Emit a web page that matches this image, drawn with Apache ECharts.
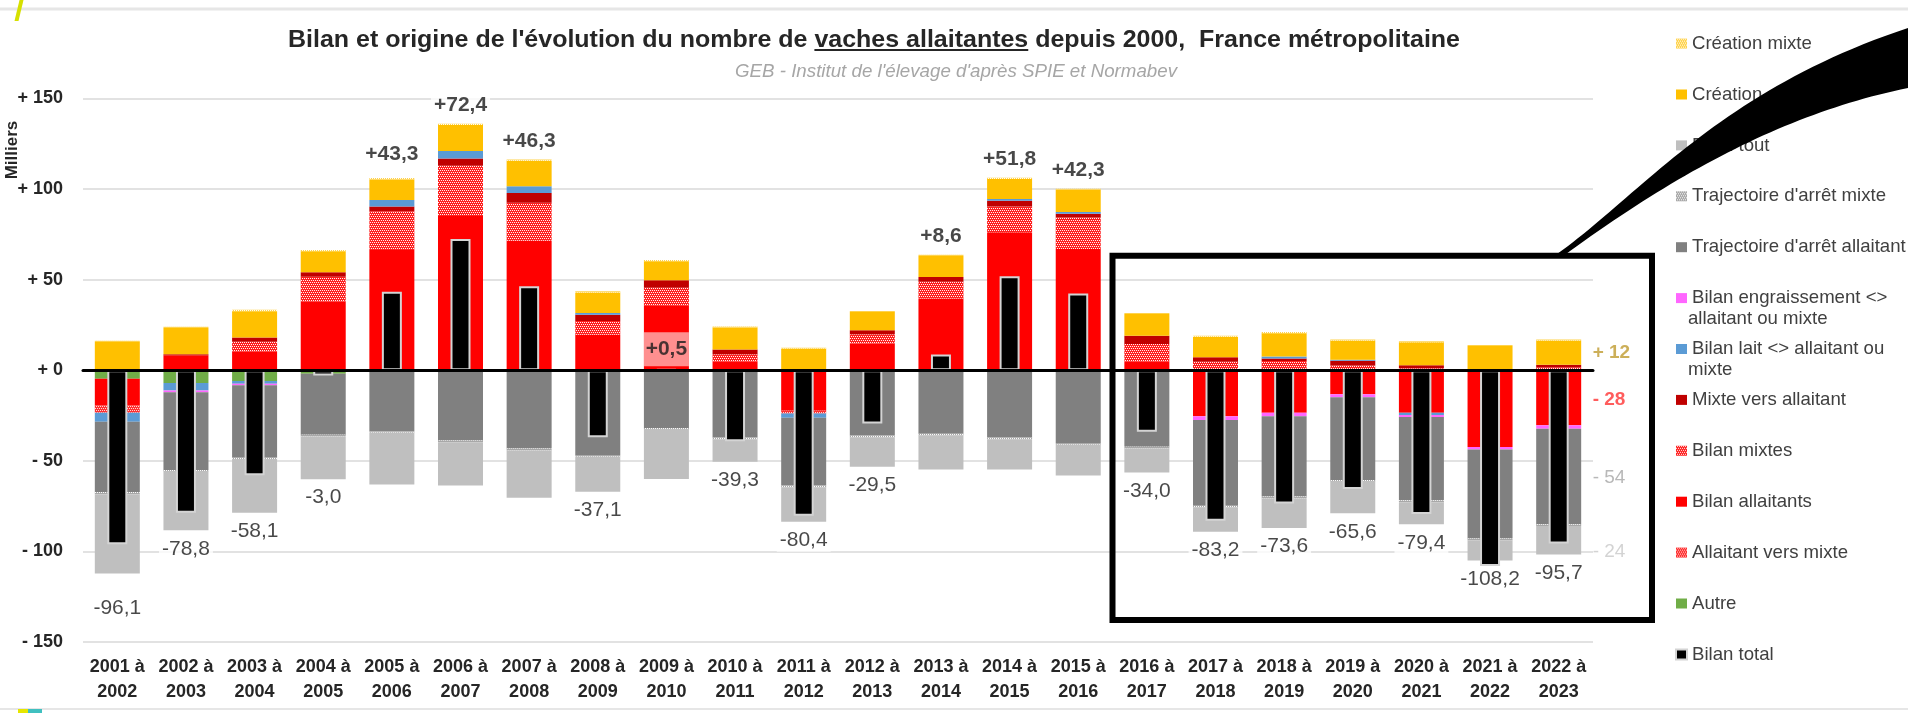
<!DOCTYPE html>
<html><head><meta charset="utf-8">
<script src="https://cdn.jsdelivr.net/npm/echarts@6/dist/echarts.min.js"></script>
<style>html,body{margin:0;padding:0;background:#fff;}#chart{width:1908px;height:713px;}</style>
</head><body><div id="chart"></div>
<script>
// ---------------- DATA (milliers de vaches) ----------------
const categories = ['2001 à 2002','2002 à 2003','2003 à 2004','2004 à 2005','2005 à 2006','2006 à 2007','2007 à 2008','2008 à 2009','2009 à 2010','2010 à 2011','2011 à 2012','2012 à 2013','2013 à 2014','2014 à 2015','2015 à 2016','2016 à 2017','2017 à 2018','2018 à 2019','2019 à 2020','2020 à 2021','2021 à 2022','2022 à 2023'];
const autre              = [-4.7, -7.1, -6.0, -2.0, 0, 0, 0, 0, 0, 0, 0, 0, 0, 0, 0, 0, 0, 0, 0, 0, 0, 0];
const bilanAllaitants    = [-14.7, 8.2, 10.2, 37.8, 66.3, 85.1, 71.4, 19.6, 35.9, 4.7, -22.4, 14.7, 39.6, 76.1, 66.9, 4.7, -25.5, -23.5, -13.3, -23.5, -42.4, -30.4];
const bilanMixtes        = [0, 0, 5.5, 13.8, 21.5, 27.8, 21.0, 7.5, 9.6, 4.1, 0, 5.1, 9.2, 14.3, 17.4, 9.8, 4.7, 5.0, 2.5, 1.0, 0, 1.5];
const allaitantVersMixte = [-4.1, 0, 0, 0, 0, 0, 0, 0, 0, 0, -1.5, 0, 0, 0, 0, 0, 0, 0, 0, 0, 0, 0];
const mixteVersAllaitant = [0, 0.6, 2.3, 2.5, 2.6, 4.0, 5.4, 3.5, 4.1, 2.6, 0.5, 2.2, 2.6, 3.1, 2.0, 4.5, 2.4, 1.5, 2.7, 1.7, 0.5, 1.5];
const bilanLait          = [-5.0, -4.1, -1.5, 0, 3.5, 4.1, 3.8, 1.0, 0, 0, -2.4, 0, 0, 1.0, 1.0, 0, 0, 1.0, 0.5, -1.2, 0, 0];
const bilanEngraissement = [0, -1.0, -0.8, 0, -0.5, 0, 0, -0.5, 0, 0, 0, -0.5, 0, -0.5, -0.5, 0, -2.0, -2.0, -1.6, -1.2, -1.4, -2.0];
const trajArretAllaitant = [-38.8, -42.9, -39.7, -33.7, -33.2, -38.8, -43.3, -46.3, -32.0, -37.2, -37.4, -35.6, -35.1, -36.7, -39.7, -42.3, -47.4, -44.3, -45.7, -46.0, -49.1, -52.7];
const trajArretMixte     = [-1.2, -1.0, -1.1, -1.0, -0.9, -1.0, -1.1, -1.0, -0.9, -1.0, -1.0, -0.9, -1.0, -1.0, -1.0, -1.0, -1.0, -1.1, -1.0, -1.0, -1.0, -1.0];
const bilanTout          = [-43.8, -32.3, -29.6, -23.5, -28.6, -23.9, -26.1, -19.4, -27.2, -12.4, -19.0, -16.4, -18.8, -16.7, -17.0, -13.2, -13.3, -16.3, -17.4, -12.2, -11.2, -15.7];
const creationAllaitant  = [15.5, 14.5, 14.5, 11.5, 11.4, 14.3, 14.0, 11.3, 10.5, 12.1, 11.4, 10.1, 11.6, 11.1, 12.3, 12.0, 11.3, 12.9, 10.7, 12.7, 12.9, 13.4];
const creationMixte      = [0.8, 0.6, 0.8, 0.7, 0.8, 0.8, 0.7, 0.6, 0.7, 0.6, 0.5, 0.6, 0.7, 0.7, 0.6, 0.6, 0.6, 0.6, 0.5, 0.5, 0.5, 0.5];
const bilanTotal         = [-96.1, -78.8, -58.1, -3.0, 43.3, 72.4, 46.3, -37.1, 0.5, -39.3, -80.4, -29.5, 8.6, 51.8, 42.3, -34.0, -83.2, -73.6, -65.6, -79.4, -108.2, -95.7];
const yTicks = [-150, -100, -50, 0, 50, 100, 150];
// annotations on the right of the last bar
const annTexts = ['+ 12', '- 28', '- 54', '- 24'];
const annY     = [9.8, -16.1, -59.6, -100.4];

// ---------------- STYLE ----------------
const FONT = '"Liberation Sans", Arial, sans-serif';
const dots = (c) => ({symbol: 'rect', symbolSize: 1, color: c, dashArrayX: [[1, 1], [0, 1, 1, 0]], dashArrayY: [1, 1]});
const comp = [
  {name: 'Autre', data: autre, color: '#70AD47'},
  {name: 'Bilan allaitants', data: bilanAllaitants, color: '#FF0000'},
  {name: 'Bilan mixtes', data: bilanMixtes, color: '#FF2020', decal: dots('rgba(255,255,255,0.95)')},
  {name: 'Allaitant vers mixte', data: allaitantVersMixte, color: '#FF3030', decal: dots('rgba(255,255,255,0.8)')},
  {name: 'Mixte vers allaitant', data: mixteVersAllaitant, color: '#C00000'},
  {name: 'Bilan lait <> allaitant ou mixte', data: bilanLait, color: '#5B9BD5'},
  {name: 'Bilan engraissement <> allaitant ou mixte', data: bilanEngraissement, color: '#FF66FF'},
  {name: "Trajectoire d'arrêt allaitant", data: trajArretAllaitant, color: '#808080'},
  {name: "Trajectoire d'arrêt mixte", data: trajArretMixte, color: '#A8A8A8', decal: dots('rgba(255,255,255,0.95)')},
  {name: 'Bilan tout', data: bilanTout, color: '#BFBFBF'},
  {name: 'Création allaitant', data: creationAllaitant, color: '#FFC000'},
  {name: 'Création mixte', data: creationMixte, color: '#FFD34D', decal: dots('rgba(255,255,255,0.95)')}
];
const legendOrder = ['Création mixte','Création allaitant','Bilan tout',"Trajectoire d'arrêt mixte","Trajectoire d'arrêt allaitant",'Bilan engraissement <> allaitant ou mixte','Bilan lait <> allaitant ou mixte','Mixte vers allaitant','Bilan mixtes','Bilan allaitants','Allaitant vers mixte','Autre','Bilan total'];
const legendFirstLine = {'Bilan engraissement <> allaitant ou mixte': 'Bilan engraissement <>', 'Bilan lait <> allaitant ou mixte': 'Bilan lait <> allaitant ou'};
const legendSecondLine = {'Bilan engraissement <> allaitant ou mixte': 'allaitant ou mixte', 'Bilan lait <> allaitant ou mixte': 'mixte'};
const annColors = ['#BF9B30', '#FF3333', '#A6A6A6', '#C8C8C8'];
const annBold = [true, true, false, false];

const fmt = v => (v > 0 ? '+' : '') + v.toFixed(1).replace('.', ',');

// stack extremities (for label anchors)
const posTop = categories.map((_, i) => comp.reduce((s, c) => s + Math.max(0, c.data[i]), 0));
const negBottom = categories.map((_, i) => comp.reduce((s, c) => s + Math.min(0, c.data[i]), 0));
const labelNudge = {0: 16, 4: 5};

const series = comp.map(c => ({
  name: c.name, type: 'bar', stack: 'bilan', stackStrategy: 'samesign',
  xAxisIndex: 0, barWidth: 45, data: c.data, silent: true,
  itemStyle: Object.assign({color: c.color}, c.decal ? {decal: c.decal} : {}),
  emphasis: {disabled: true}
}));
series.push({
  name: 'Bilan total', type: 'bar', xAxisIndex: 1, barWidth: 20, data: bilanTotal, silent: true,
  itemStyle: {color: '#000', borderColor: '#D4D4D4', borderWidth: 2}, emphasis: {disabled: true}
});
series.push({
  name: 'labels', type: 'scatter', xAxisIndex: 0, symbolSize: 0, silent: true, z: 6,
  data: bilanTotal.map((t, i) => {
    if (Math.abs(t) < 1) {
      return {value: [i, 0], label: {position: 'top', distance: 4, backgroundColor: 'rgba(255,255,255,0.7)', width: 45, height: 34, lineHeight: 34, align: 'center', padding: 0, fontWeight: 'bold'}};
    }
    const up = t > 0;
    return {value: [i, up ? posTop[i] : negBottom[i]], label: {position: up ? 'top' : 'bottom', distance: 7 + (labelNudge[i] || 0), fontWeight: up ? 'bold' : 'normal'}};
  }),
  label: {show: true, formatter: p => fmt(bilanTotal[p.dataIndex]), fontSize: 21, color: '#1A1A1A', fontFamily: FONT, backgroundColor: '#fff', padding: [1, 3]}
});
series.push({
  name: 'annotations', type: 'scatter', xAxisIndex: 0, symbolSize: 0, silent: true, z: 6,
  data: annY.map((v, k) => ({value: [categories.length - 1, v], label: {formatter: annTexts[k], color: annColors[k], fontWeight: annBold[k] ? 'bold' : 'normal'}})),
  label: {show: true, position: 'right', distance: 34, fontSize: 19, fontFamily: FONT}
});

// ---------------- TITLE MEASURE ----------------
const ctx = document.createElement('canvas').getContext('2d');
const tw = (s, f) => { ctx.font = f; return ctx.measureText(s).width; };
const t1 = "Bilan et origine de l'évolution du nombre de ", t2 = 'vaches allaitantes', t3 = ' depuis 2000,  France métropolitaine';
const titleFont = 'bold 24px "Liberation Sans"';
const w1 = tw(t1, titleFont), w2 = tw(t2, titleFont), w3 = tw(t3, titleFont);
const titleW = 1172, titleX = 288, tScale = titleW / (w1 + w2 + w3);
const sub = "GEB - Institut de l'élevage d'après SPIE et Normabev";
const subFont = 'italic 18px "Liberation Sans"';
const subW = 442, sScale = subW / tw(sub, subFont);

const legendTop = 25.6, legendStep = 50.9;
const secondLines = legendOrder.map((n, k) => legendSecondLine[n] ? {type: 'text', x: 1688, y: legendTop + 13 + k * legendStep + 26, style: {text: legendSecondLine[n], font: '18.6px "Liberation Sans"', fill: '#404040', verticalAlign: 'middle'}} : null).filter(Boolean);

// decorative swoosh (annotation arrow), sampled cubic curves
function bez(p0, p1, p2, p3, n) {
  const pts = [];
  for (let k = 0; k <= n; k++) {
    const t = k / n, u = 1 - t;
    pts.push([u*u*u*p0[0] + 3*u*u*t*p1[0] + 3*u*t*t*p2[0] + t*t*t*p3[0], u*u*u*p0[1] + 3*u*u*t*p1[1] + 3*u*t*t*p2[1] + t*t*t*p3[1]]);
  }
  return pts;
}
const swoosh = bez([1557, 254], [1640, 195], [1720, 90], [1908, 28], 48).concat(bez([1908, 88], [1790, 112], [1680, 170], [1562, 257], 48));

const option = {
  animation: false,
  backgroundColor: '#fff',
  textStyle: {fontFamily: FONT},
  grid: {left: 83, right: 315, top: 98.5, bottom: 71.2},
  legend: {
    orient: 'vertical', left: 1670, top: legendTop, itemWidth: 11, itemHeight: 10, itemGap: 24.9,
    icon: 'rect', data: legendOrder, selectedMode: false,
    formatter: n => legendFirstLine[n] || n,
    textStyle: {fontSize: 18.6, color: '#404040', fontFamily: FONT, lineHeight: 26}
  },
  xAxis: [
    {type: 'category', data: categories, gridIndex: 0,
     axisLine: {show: false, onZero: false}, axisTick: {show: false}, splitLine: {show: false},
     axisLabel: {interval: 0, formatter: v => v.replace(' à ', ' à\n'), fontSize: 18, fontWeight: 'bold', color: '#262626', lineHeight: 25, margin: 13, fontFamily: FONT}},
    {type: 'category', data: categories, gridIndex: 0, z: 3,
     axisLine: {show: true, onZero: true, lineStyle: {color: '#000', width: 3}}, axisTick: {show: false}, axisLabel: {show: false}, splitLine: {show: false}}
  ],
  yAxis: {type: 'value', min: yTicks[0], max: yTicks[yTicks.length - 1], interval: 50,
    axisLine: {show: false}, axisTick: {show: false},
    splitLine: {lineStyle: {color: '#E2E2E2', width: 2}},
    axisLabel: {formatter: v => (v >= 0 ? '+ ' : '- ') + Math.abs(v), fontSize: 18, fontWeight: 'bold', color: '#262626', margin: 20, fontFamily: FONT}},
  series: series,
  graphic: [
    {type: 'line', shape: {x1: 0, y1: 9, x2: 1908, y2: 9}, style: {stroke: '#E6E6E6', lineWidth: 3}, silent: true},
    {type: 'line', shape: {x1: 0, y1: 709, x2: 1908, y2: 709}, style: {stroke: '#E6E6E6', lineWidth: 2}, silent: true},
    {type: 'polygon', shape: {points: [[19.5, 0], [23.5, 0], [18.5, 21], [14.5, 21]]}, style: {fill: '#D6E000'}, silent: true},
    {type: 'rect', shape: {x: 18, y: 709, width: 10, height: 4}, style: {fill: '#E6E600'}, silent: true},
    {type: 'rect', shape: {x: 28, y: 709, width: 14, height: 4}, style: {fill: '#40C0C0'}, silent: true},
    {type: 'text', x: titleX, y: 40, scaleX: tScale, style: {text: t1 + t2 + t3, font: titleFont, fill: '#262626', verticalAlign: 'middle', align: 'left'}, silent: true},
    {type: 'line', shape: {x1: titleX + w1 * tScale, y1: 50, x2: titleX + (w1 + w2) * tScale, y2: 50}, style: {stroke: '#262626', lineWidth: 2}, silent: true},
    {type: 'text', x: 956 - subW / 2, y: 72, scaleX: sScale, style: {text: sub, font: subFont, fill: '#A6A6A6', verticalAlign: 'middle', align: 'left'}, silent: true},
    {type: 'text', x: 12, y: 150, rotation: Math.PI / 2, style: {text: 'Milliers', font: 'bold 17px "Liberation Sans"', fill: '#262626', align: 'center', verticalAlign: 'middle'}, silent: true},
    ...secondLines,
    {type: 'rect', z: 100, shape: {x: 1112.5, y: 255.7, width: 539.5, height: 364.3}, style: {fill: 'none', stroke: '#000', lineWidth: 6}, silent: true},
    {type: 'polygon', z: 100, shape: {points: swoosh}, style: {fill: '#000'}, silent: true}
  ]
};
const chart = echarts.init(document.getElementById('chart'), null, {renderer: 'canvas'});
chart.setOption(option);
</script></body></html>
